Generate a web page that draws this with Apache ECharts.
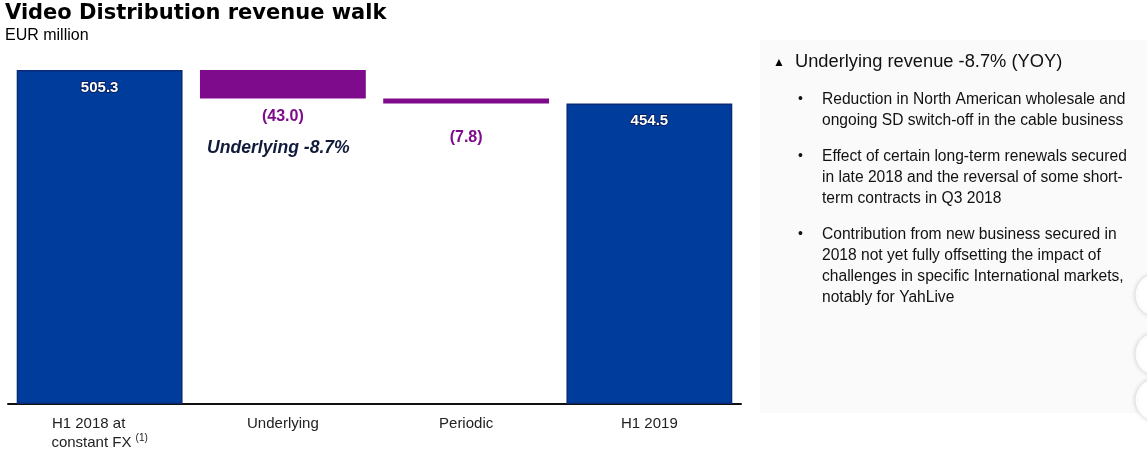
<!DOCTYPE html>
<html><head><meta charset="utf-8">
<script src="https://cdn.jsdelivr.net/npm/echarts@6/dist/echarts.min.js"></script>
<style>html,body{margin:0;padding:0;background:#fff}#c{width:1147px;height:458px}</style>
</head><body><div id="c"></div>
<script>
const categories = ['H1 2018 at\nconstant FX', 'Underlying', 'Periodic', 'H1 2019'];
const values = [505.3, -43.0, -7.8, 454.5];
const isTotal = [true, false, false, true];
const valueLabels = ['505.3', '(43.0)', '(7.8)', '454.5'];
const noteText = 'Underlying -8.7%';
const panelHeading = 'Underlying revenue -8.7% (YOY)';
const bullets = [
  ['Reduction in North American wholesale and', 'ongoing SD switch-off in the cable business'],
  ['Effect of certain long-term renewals secured', 'in late 2018 and the reversal of some short-', 'term contracts in Q3 2018'],
  ['Contribution from new business secured in', '2018 not yet fully offsetting the impact of', 'challenges in specific International markets,', 'notably for YahLive']
];

// waterfall bases
const base = [], height = [];
let run = 0;
values.forEach((v, i) => {
  if (isTotal[i]) { base.push(0); height.push(v); run = v; }
  else { run += v; base.push(run); height.push(-v); }
});

const BLUE = '#003c9c', BLUE_B = '#0a2a78', PURPLE = '#7e0a8c';
const font = '"Liberation Sans", Arial, sans-serif';

const graphic = [
  { type: 'rect', shape: { x: 760, y: 40, width: 387, height: 373 }, style: { fill: '#fafafb' }, z: -10 },
  { type: 'text', left: 5, top: 3, style: { text: 'Video Distribution revenue walk', font: '900 21px "DejaVu Sans", sans-serif', fill: '#000' } },
  { type: 'text', left: 5, top: 28, style: { text: 'EUR million', font: '16px ' + font, fill: '#000' } },
  { type: 'text', left: 773, top: 57, style: { text: '▲', font: '12px ' + font, fill: '#000' } },
  { type: 'text', left: 795, top: 53, style: { text: panelHeading, font: '18.3px ' + font, fill: '#111' } }
];
const bulletTops = [92, 149, 227];
bullets.forEach((lines, bi) => {
  graphic.push({ type: 'text', left: 798, top: bulletTops[bi], style: { text: '•', font: '14px ' + font, fill: '#111' } });
  lines.forEach((ln, li) => {
    graphic.push({ type: 'text', left: 822, top: bulletTops[bi] + li * 21, style: { text: ln, font: '15.6px ' + font, fill: '#111' } });
  });
});
[295, 354, 400].forEach(cy => {
  graphic.push({ type: 'circle', shape: { cx: 1157, cy: cy, r: 22 }, style: { fill: '#fff', stroke: '#e4e4e4', lineWidth: 1, shadowBlur: 4, shadowColor: 'rgba(0,0,0,0.12)' } });
});
graphic.push({ type: 'text', left: 207, top: 139, style: { text: noteText, font: 'italic bold 17.6px ' + font, fill: '#101a3a' } });

const chart = echarts.init(document.getElementById('c'), null, { renderer: 'canvas' });
chart.setOption({
  animation: false,
  backgroundColor: '#fff',
  graphic: graphic,
  grid: { left: 8, right: 406, top: 70, bottom: 54, containLabel: false },
  xAxis: {
    type: 'category', data: categories,
    axisLine: { lineStyle: { color: '#111', width: 2 } },
    axisTick: { show: false },
    axisLabel: {
      interval: 0, margin: 10, color: '#222', fontSize: 15, fontFamily: font, lineHeight: 19,
      formatter: v => v.indexOf('constant') >= 0 ? '{a|H1 2018 at}{g|}\n{a|constant FX} {s|(1)}' : v,
      rich: {
        a: { fontSize: 15, fontFamily: font, color: '#222', lineHeight: 19 },
        g: { width: 22, lineHeight: 19 },
        s: { fontSize: 10, fontFamily: font, color: '#222', verticalAlign: 'top', padding: [0, 0, 10, 0] }
      }
    }
  },
  yAxis: { type: 'value', min: 0, max: 505.3, show: false, splitLine: { show: false } },
  series: [
    { type: 'bar', stack: 'w', data: base, itemStyle: { color: 'transparent' }, barCategoryGap: '9.5%', silent: true },
    {
      type: 'bar', stack: 'w', barCategoryGap: '9.5%',
      data: height.map((h, i) => ({
        value: h,
        itemStyle: isTotal[i] ? { color: BLUE, borderColor: BLUE_B, borderWidth: 1.5 } : { color: PURPLE },
        label: isTotal[i]
          ? { show: true, position: 'insideTop', distance: 10, formatter: valueLabels[i], color: '#fff', fontWeight: 'bold', fontSize: 15, fontFamily: font, textBorderColor: '#001a55', textBorderWidth: 1.5 }
          : { show: true, position: 'bottom', distance: i === 1 ? 10 : 26, formatter: valueLabels[i], color: PURPLE, fontWeight: 'bold', fontSize: 16, fontFamily: font }
      }))
    }
  ]
});
</script></body></html>
